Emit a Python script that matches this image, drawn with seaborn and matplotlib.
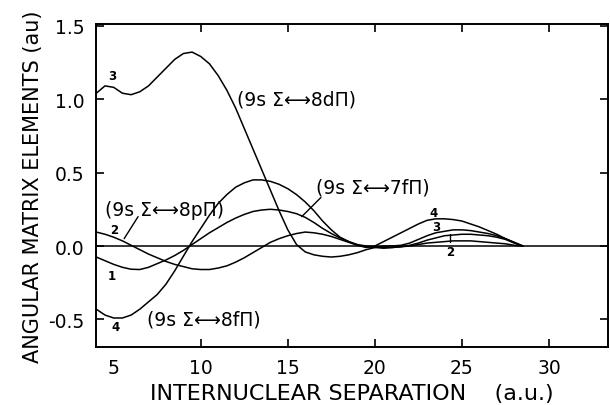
import numpy as np
import pandas as pd
import seaborn as sns
import matplotlib
matplotlib.use("Agg")
from matplotlib import pyplot as plt

# separation grid (a.u.)
r = [4.0, 4.5, 5.0, 5.5, 6.0, 6.5, 7.0, 7.5, 8.0, 8.5, 9.0, 9.5, 10.0, 10.5,
     11.0, 11.5, 12.0, 12.5, 13.0, 13.5, 14.0, 14.5, 15.0, 15.5, 16.0, 16.5,
     17.0, 17.5, 18.0, 18.5, 19.0, 19.5, 20.0, 20.5, 21.0, 21.5, 22.0, 22.5,
     23.0, 23.5, 24.0, 24.5, 25.0, 25.5, 26.0, 26.5, 27.0, 27.5, 28.0, 28.5]

# 1: 9s Sigma <-> 7f Pi
curve1 = [-0.075, -0.10, -0.125, -0.145, -0.158, -0.16, -0.145, -0.12, -0.095, -0.065,
          -0.03, 0.01, 0.05, 0.09, 0.125, 0.16, 0.19, 0.215, 0.235, 0.245,
          0.25, 0.245, 0.235, 0.22, 0.195, 0.16, 0.12, 0.085, 0.055, 0.03,
          0.01, 0.0, -0.005, -0.01, -0.01, -0.005, 0.005, 0.02, 0.04, 0.055,
          0.07, 0.075, 0.08, 0.08, 0.075, 0.07, 0.06, 0.045, 0.02, 0.0]
# 2: 9s Sigma <-> 8p Pi
curve2 = [0.095, 0.08, 0.06, 0.035, 0.005, -0.025, -0.055, -0.08, -0.105, -0.125,
          -0.14, -0.155, -0.16, -0.16, -0.15, -0.135, -0.11, -0.08, -0.045, -0.01,
          0.025, 0.05, 0.07, 0.085, 0.095, 0.09, 0.08, 0.065, 0.045, 0.025,
          0.005, -0.005, -0.01, -0.015, -0.01, -0.005, 0.0, 0.01, 0.02, 0.025,
          0.03, 0.035, 0.035, 0.035, 0.03, 0.025, 0.02, 0.015, 0.005, 0.0]
# 3: 9s Sigma <-> 8d Pi
curve3 = [1.04, 1.09, 1.08, 1.04, 1.03, 1.05, 1.09, 1.15, 1.21, 1.27,
          1.31, 1.32, 1.29, 1.24, 1.16, 1.06, 0.94, 0.80, 0.66, 0.52,
          0.38, 0.24, 0.11, 0.01, -0.04, -0.06, -0.07, -0.075, -0.07, -0.06,
          -0.045, -0.025, -0.01, 0.0, 0.0, 0.005, 0.02, 0.045, 0.07, 0.09,
          0.10, 0.11, 0.11, 0.105, 0.095, 0.085, 0.07, 0.05, 0.025, 0.0]
# 4: 9s Sigma <-> 8f Pi
curve4 = [-0.43, -0.47, -0.49, -0.49, -0.47, -0.43, -0.38, -0.33, -0.26, -0.17,
          -0.07, 0.03, 0.12, 0.21, 0.29, 0.35, 0.40, 0.43, 0.45, 0.45,
          0.44, 0.42, 0.39, 0.35, 0.30, 0.24, 0.17, 0.11, 0.06, 0.03,
          0.005, -0.01, 0.0, 0.03, 0.06, 0.09, 0.12, 0.15, 0.175, 0.185,
          0.185, 0.18, 0.17, 0.15, 0.13, 0.105, 0.08, 0.05, 0.025, 0.0]

sns.set_style("ticks")
plt.rcParams['font.family'] = ['DejaVu Sans']
plt.rcParams['text.color'] = 'black'
plt.rcParams['axes.labelcolor'] = 'black'
plt.rcParams['xtick.color'] = 'black'
plt.rcParams['ytick.color'] = 'black'

fig = plt.figure(figsize=(6.1, 4.06), dpi=100)
ax = fig.add_axes([0.157, 0.143, 0.84, 0.795])

for c in [curve1, curve2, curve3, curve4]:
    sns.lineplot(x=r, y=c, color='black', lw=1.1, ax=ax, sort=False)

ax.axhline(0, color='black', lw=1.1)

ax.set_xlim(3.97, 33.4)
ax.set_ylim(-0.687, 1.51)
ax.set_xticks([5, 10, 15, 20, 25, 30])
ax.set_xticklabels(['5', '10', '15', '20', '25', '30'])
ax.set_yticks([-0.5, 0.0, 0.5, 1.0, 1.5])
ax.set_yticklabels(['-0.5', '0.0', '0.5', '1.0', '1.5'])
ax.tick_params(direction='in', length=6, width=1.2, labelsize=13.5,
               top=True, right=True, pad=8)
ax.xaxis.get_major_ticks()[0].tick1line.set_visible(False)
ax.xaxis.get_major_ticks()[0].tick2line.set_visible(False)
for s in ax.spines.values():
    s.set_linewidth(1.4)
    s.set_color('black')

ax.set_xlabel('INTERNUCLEAR SEPARATION    (a.u.)', fontsize=16, labelpad=4)
ax.set_ylabel('ANGULAR MATRIX ELEMENTS (au)', fontsize=15, labelpad=4)

fs = 13.5
ax.text(12.1, 1.0, '(9s Σ\u27f78dΠ)', fontsize=fs, ha='left', va='center')
ax.text(16.6, 0.40, '(9s Σ\u27f77fΠ)', fontsize=fs, ha='left', va='center')
ax.text(4.5, 0.25, '(9s Σ\u27f78pΠ)', fontsize=fs, ha='left', va='center')
ax.text(6.9, -0.50, '(9s Σ\u27f78fΠ)', fontsize=fs, ha='left', va='center')

# leaders
ax.plot([6.4, 5.6], [0.20, 0.05], color='black', lw=1.0)
ax.plot([16.9, 15.8], [0.33, 0.20], color='black', lw=1.0)
ax.plot([24.3, 24.3], [0.03, 0.08], color='black', lw=1.0)

nfs = 8.5
for x, y, t in [(4.9, 1.16, '3'), (5.05, 0.115, '2'), (4.9, -0.20, '1'),
                (5.1, -0.55, '4'), (23.4, 0.23, '4'), (23.5, 0.135, '3'),
                (24.3, -0.035, '2')]:
    ax.text(x, y, t, fontsize=nfs, fontweight='bold', ha='center', va='center')

fig.savefig('out.png', dpi=100)
